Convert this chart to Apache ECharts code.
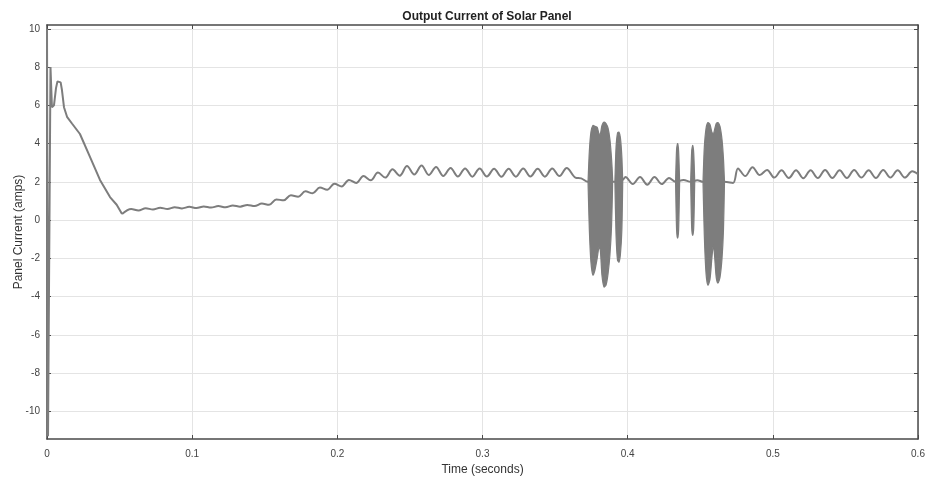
<!DOCTYPE html>
<html>
<head>
<meta charset="utf-8">
<title>Output Current of Solar Panel</title>
<script src="https://cdn.jsdelivr.net/npm/echarts@6/dist/echarts.min.js"></script>
<style>
  html, body { margin: 0; padding: 0; background: #ffffff; }
  #chart { width: 925px; height: 477px; }
</style>
</head>
<body>
<div id="chart"></div>
<script>
// Panel current samples: [time (s), current (A)]
const startupCurve = [
  [0, 10], [0.0007, -11.3], [0.0024, 8.0], [0.0034, 5.9], [0.0048, 6.0],
  [0.0062, 6.9], [0.0072, 7.25], [0.0083, 7.32], [0.0094, 7.2], [0.0103, 6.8],
  [0.0117, 5.9], [0.0138, 5.4], [0.0172, 5.05], [0.0227, 4.5], [0.0296, 3.3],
  [0.0365, 2.1], [0.0434, 1.2], [0.048, 0.8], [0.0517, 0.32]
];
const settleCurve = [
  [0.0517, 0.32], [0.058, 0.58], [0.063, 0.50], [0.068, 0.62], [0.073, 0.55],
  [0.078, 0.64], [0.083, 0.58], [0.088, 0.67], [0.093, 0.61], [0.098, 0.69],
  [0.103, 0.63], [0.108, 0.71], [0.113, 0.65], [0.118, 0.73], [0.123, 0.67],
  [0.128, 0.76], [0.133, 0.70], [0.138, 0.79], [0.143, 0.73], [0.148, 0.86],
  [0.153, 0.80]
];
const rampCurve = [
  [0.158, 1.08], [0.163, 1.03], [0.168, 1.30], [0.173, 1.22], [0.178, 1.50],
  [0.183, 1.40], [0.188, 1.70], [0.193, 1.58], [0.198, 1.90], [0.203, 1.76],
  [0.208, 2.10], [0.213, 1.94], [0.218, 2.30], [0.223, 2.08], [0.228, 2.48],
  [0.233, 2.22], [0.238, 2.65], [0.243, 2.32]
];
const steadyCurve = [
  [0.248, 2.82], [0.253, 2.38], [0.258, 2.85], [0.263, 2.36], [0.268, 2.78],
  [0.273, 2.30], [0.278, 2.72], [0.283, 2.28], [0.288, 2.70], [0.293, 2.27],
  [0.298, 2.70], [0.303, 2.28], [0.308, 2.68], [0.313, 2.26], [0.318, 2.68],
  [0.323, 2.27], [0.328, 2.70], [0.333, 2.28], [0.338, 2.68], [0.343, 2.27],
  [0.348, 2.70], [0.353, 2.30], [0.358, 2.72], [0.364, 2.22], [0.368, 2.18],
  [0.3727, 2.0]
];
const gapCurve = [
  [0.380, 2.0], [0.3912, 2.0], [0.3966, 2.1], [0.3985, 2.25], [0.4035, 1.88],
  [0.4085, 2.25], [0.4135, 1.85], [0.4185, 2.25], [0.4235, 1.88], [0.4285, 2.2],
  [0.433, 2.0], [0.4385, 2.1], [0.4434, 2.0], [0.448, 2.08], [0.4519, 2.0],
  [0.459, 2.0]
];
const tailCurve = [
  [0.4667, 2.0], [0.4726, 1.94], [0.476, 2.70], [0.481, 2.30], [0.486, 2.76],
  [0.491, 2.35], [0.496, 2.62], [0.501, 2.22], [0.506, 2.60], [0.511, 2.20],
  [0.516, 2.60], [0.521, 2.18], [0.526, 2.60], [0.531, 2.20], [0.536, 2.62],
  [0.541, 2.20], [0.546, 2.60], [0.551, 2.20], [0.556, 2.62], [0.561, 2.22],
  [0.566, 2.60], [0.571, 2.20], [0.576, 2.62], [0.581, 2.22], [0.586, 2.60],
  [0.591, 2.22], [0.596, 2.55], [0.600, 2.40]
];

// Switching bursts: envelope of the fast oscillation (time, upper, lower)
const burstTimesA = [0.3727, 0.3736, 0.3747, 0.3761, 0.3775, 0.3790, 0.3803, 0.3812, 0.3823, 0.3837, 0.3851, 0.3865, 0.3878, 0.3889, 0.3896];
const burstUpperA = [2.0, 3.6, 4.6, 4.95, 4.9, 4.85, 4.5, 4.5, 4.95, 5.12, 5.05, 4.8, 4.2, 3.2, 2.2];
const burstLowerA = [2.0, -0.5, -2.2, -2.88, -2.6, -2.0, -1.4, -1.6, -2.9, -3.5, -3.4, -2.8, -1.8, -0.3, 1.8];

const burstTimesB = [0.3912, 0.3920, 0.3930, 0.3940, 0.3950, 0.3960, 0.3966];
const burstUpperB = [2.0, 3.8, 4.55, 4.6, 4.3, 3.3, 2.0];
const burstLowerB = [2.0, -0.8, -2.1, -2.2, -1.8, -0.5, 2.0];

const burstTimesC = [0.4330, 0.4337, 0.4344, 0.4351, 0.4358];
const burstUpperC = [2.0, 3.7, 4.0, 3.6, 2.0];
const burstLowerC = [2.0, -0.5, -0.95, -0.5, 2.0];

const burstTimesD = [0.4434, 0.4441, 0.4448, 0.4455, 0.4462];
const burstUpperD = [2.0, 3.6, 3.9, 3.5, 2.0];
const burstLowerD = [2.0, -0.4, -0.8, -0.4, 2.0];

const burstTimesE = [0.4519, 0.4528, 0.4540, 0.4553, 0.4567, 0.4580, 0.4590, 0.4598, 0.4610, 0.4622, 0.4636, 0.4650, 0.4660, 0.4667];
const burstUpperE = [2.0, 3.8, 4.8, 5.1, 5.0, 4.6, 4.5, 4.7, 5.05, 5.1, 4.9, 4.2, 3.2, 2.0];
const burstLowerE = [2.0, -0.8, -2.8, -3.4, -3.1, -2.0, -1.3, -1.8, -3.0, -3.3, -3.0, -2.0, -0.5, 2.0];

// Axis ticks
const xTicks = [0, 0.1, 0.2, 0.3, 0.4, 0.5, 0.6];
const yTicks = [-10, -8, -6, -4, -2, 0, 2, 4, 6, 8, 10];

const bursts = [
  { t: burstTimesA, hi: burstUpperA, lo: burstLowerA },
  { t: burstTimesB, hi: burstUpperB, lo: burstLowerB },
  { t: burstTimesC, hi: burstUpperC, lo: burstLowerC },
  { t: burstTimesD, hi: burstUpperD, lo: burstLowerD },
  { t: burstTimesE, hi: burstUpperE, lo: burstLowerE }
];

const rippleCurve = [].concat(settleCurve, rampCurve, steadyCurve, gapCurve, tailCurve);

const LINE = '#7d7d7d';
const AXIS = '#4a4a4a';
const GRID = '#e4e4e4';
const FONT = '"Liberation Sans", Arial, sans-serif';

const chart = echarts.init(document.getElementById('chart'), null, { renderer: 'canvas' });

const boxLine = { show: true, onZero: false, lineStyle: { color: AXIS, width: 1.5 } };
const boxTick = { show: true, inside: true, length: 4, lineStyle: { color: AXIS, width: 1 } };

chart.setOption({
  animation: false,
  backgroundColor: '#ffffff',
  textStyle: { fontFamily: FONT },
  title: {
    text: 'Output Current of Solar Panel',
    left: 482,
    textAlign: 'center',
    top: 6,
    textStyle: { fontSize: 12, fontWeight: 'bold', color: '#222', fontFamily: FONT }
  },
  grid: { left: 47, right: 7, top: 25, bottom: 38, containLabel: false, outerBoundsMode: 'none' },
  xAxis: [
    {
      type: 'value', min: 0, max: 0.6, interval: 0.1, position: 'bottom',
      axisLine: boxLine, axisTick: boxTick,
      axisLabel: {
        color: '#444', fontSize: 10, margin: 10, fontFamily: FONT,
        customValues: xTicks,
        formatter: v => String(+v.toFixed(1))
      },
      splitLine: { show: true, lineStyle: { color: GRID, width: 1 } },
      name: 'Time (seconds)', nameLocation: 'middle', nameGap: 25,
      nameMoveOverlap: false,
      nameTextStyle: { fontSize: 12, color: '#333', fontFamily: FONT }
    },
    {
      type: 'value', min: 0, max: 0.6, interval: 0.1, position: 'top',
      axisLine: boxLine, axisTick: boxTick,
      axisLabel: { show: false }, splitLine: { show: false }
    }
  ],
  yAxis: [
    {
      type: 'value', min: -11.45, max: 10.2, position: 'left',
      axisLine: boxLine,
      axisTick: Object.assign({ customValues: yTicks }, boxTick),
      axisLabel: { customValues: yTicks, color: '#444', fontSize: 10, margin: 7, fontFamily: FONT },
      splitLine: { show: true, lineStyle: { color: GRID, width: 1 } },
      name: 'Panel Current (amps)', nameLocation: 'middle', nameGap: 22,
      nameMoveOverlap: false,
      nameTextStyle: { fontSize: 12, color: '#333', fontFamily: FONT }
    },
    {
      type: 'value', min: -11.45, max: 10.2, position: 'right',
      axisLine: boxLine,
      axisTick: Object.assign({ customValues: yTicks }, boxTick),
      axisLabel: { show: false }, splitLine: { show: false }
    }
  ],
  series: [
    {
      name: 'startup', type: 'line', data: startupCurve, showSymbol: false,
      smooth: false, lineStyle: { color: LINE, width: 2 }, z: 3
    },
    {
      name: 'ripple', type: 'line', data: rippleCurve, showSymbol: false,
      smooth: 0.35, lineStyle: { color: LINE, width: 2 }, z: 3
    },
    {
      name: 'bursts', type: 'custom', z: 4,
      data: bursts.map((b, i) => [b.t[0], b.hi[0], i]),
      encode: { x: 0, y: 1 },
      renderItem: (params, api) => {
        const b = bursts[params.dataIndex];
        const pts = [];
        for (let k = 0; k < b.t.length; k++) pts.push(api.coord([b.t[k], b.hi[k]]));
        for (let k = b.t.length - 1; k >= 0; k--) pts.push(api.coord([b.t[k], b.lo[k]]));
        return {
          type: 'polygon',
          shape: { points: pts, smooth: 0.25 },
          style: { fill: LINE, stroke: LINE, lineWidth: 1.2 }
        };
      }
    }
  ]
});
</script>
</body>
</html>
